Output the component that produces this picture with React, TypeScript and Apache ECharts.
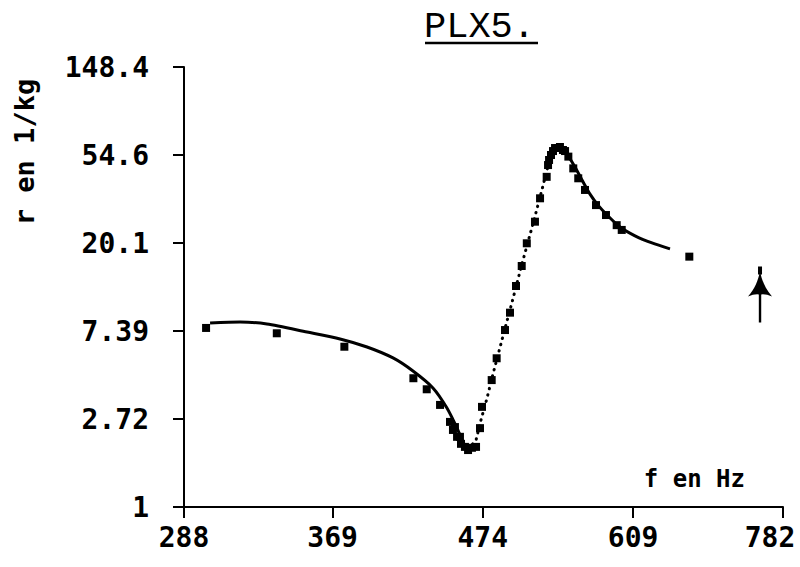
import React, { useEffect, useRef } from 'react';
import * as echarts from 'echarts';

// Axis ticks (log-log plot: f in Hz, r in l/kg)
const xTickValues = [288, 369, 474, 609, 782];
const yTickLabels = ['1', '2.72', '7.39', '20.1', '54.6', '148.4'];

// Fitted curve, left branch (solid)
const fitLeftF = [300.8, 316.2, 330.7, 353.6, 373.6, 390.8, 408.1, 421.9, 436.2, 446.5, 454.1, 458.6, 462.5];
const fitLeftR = [8.09, 8.18, 8.0, 7.3, 6.75, 6.16, 5.44, 4.69, 3.87, 3.08, 2.45, 2.09, 1.93];
// Fitted curve, rising branch (dotted)
const fitMidF = [462.5, 468.7, 472.6, 477.4, 481.3, 486.2, 491.1, 496.0, 501.0, 506.0, 511.1, 516.3, 521.5, 525.8, 529.4, 532.9, 536.5];
const fitMidR = [1.93, 2.14, 2.69, 3.45, 4.33, 5.63, 7.3, 9.38, 12.18, 15.82, 20.31, 26.08, 33.88, 42.0, 50.4, 55.9, 58.4];
// Fitted curve, right branch (solid)
const fitRightF = [536.5, 541.8, 546.4, 552.8, 559.3, 566.8, 574.4, 584.1, 595.9, 611.0, 628.5, 647.7];
const fitRightR = [58.4, 57.8, 54.0, 47.6, 41.1, 35.0, 30.9, 27.3, 24.1, 21.8, 20.1, 18.8];
// Measured points (squares)
const measuredF = [298.8, 336.2, 376.3, 422.2, 431.7, 441.4, 448.8, 451.0, 452.5, 454.1, 456.3, 457.1, 460.1, 462.5, 465.5, 468.7, 471.8, 473.4, 481.1, 485.1, 491.9, 496.0, 501.0, 505.8, 510.1, 517.1, 521.5, 527.3, 528.5, 529.4, 531.1, 532.9, 534.7, 537.3, 539.1, 541.8, 543.7, 546.7, 551.2, 555.8, 562.1, 572.5, 582.1, 592.6, 597.6, 668.9];
const measuredR = [7.65, 7.2, 6.18, 4.32, 3.81, 3.19, 2.63, 2.4, 2.48, 2.22, 2.22, 2.05, 1.98, 1.91, 1.96, 1.98, 2.45, 3.12, 4.23, 5.42, 7.47, 9.1, 12.32, 15.47, 20.02, 25.59, 33.38, 42.6, 48.7, 51.6, 54.6, 57.1, 59.1, 59.1, 59.8, 57.8, 57.1, 53.6, 46.9, 41.9, 36.7, 30.9, 27.6, 24.6, 23.3, 17.2];
// Arrow marker
const arrowF = [752.6];
const arrowR = [11.2];

const ARROW =
  'path://M10,0 L14,0 L14,8 L10,8 Z M12,5 C14,14 17,22 24,30 Q18,27.5 13.2,28 L13.2,56 L10.8,56 L10.8,28 Q6,27.5 0,30 C7,22 10,14 12,5 Z';

const zip = (F: number[], R: number[]) => F.map((f, i) => [Math.log(f), Math.log(R[i])]);

export default function App() {
  const ref = useRef<HTMLDivElement>(null);
  useEffect(() => {
    const chart = echarts.init(ref.current!, null, { renderer: 'svg' });
    const monoBold = { fontFamily: 'DejaVu Sans Mono', fontWeight: 'bold' as const, color: '#000' };
    const xLog = xTickValues.map((v) => Math.log(v));
    chart.setOption({
      animation: false,
      backgroundColor: '#fff',
      title: {
        text: 'PLX5.',
        left: 424,
        top: 8,
        padding: 0,
        textStyle: { fontFamily: 'Liberation Mono', fontWeight: 'normal', fontSize: 37, color: '#000' },
      },
      graphic: [
        { type: 'line', shape: { x1: 425, y1: 43, x2: 538, y2: 43 }, style: { stroke: '#000', lineWidth: 2.5 } },
      ],
      grid: { left: 184, right: 17, top: 67, bottom: 60, outerBoundsMode: 'none', containLabel: false },
      xAxis: {
        type: 'value',
        min: Math.log(288),
        max: Math.log(782),
        name: 'f en Hz',
        nameLocation: 'end',
        nameGap: -38,
        nameTextStyle: { ...monoBold, fontSize: 24, align: 'right', verticalAlign: 'bottom', padding: [0, 0, 16, 0] },
        axisLine: { show: true, onZero: false, lineStyle: { color: '#000', width: 2 } },
        axisTick: { show: true, length: 11, customValues: xLog, lineStyle: { color: '#000', width: 2 } },
        axisLabel: {
          ...monoBold,
          fontSize: 28,
          margin: 16,
          customValues: xLog,
          formatter: (v: number) => {
            const i = xLog.findIndex((t) => Math.abs(t - v) < 1e-6);
            const t = i >= 0 ? String(xTickValues[i]) : '';
            return i === xTickValues.length - 1 ? '{last|' + t + '}' : t;
          },
          rich: { last: { ...monoBold, fontSize: 28, padding: [0, 26, 0, 0] } },
        },
        splitLine: { show: false },
      },
      yAxis: {
        type: 'value',
        min: 0,
        max: 5,
        interval: 1,
        name: 'r en 1/kg',
        nameLocation: 'middle',
        nameRotate: 90,
        nameGap: 160,
        nameTextStyle: { ...monoBold, fontSize: 27, align: 'center', verticalAlign: 'middle', padding: [0, 0, 0, 270] },
        axisLine: { show: true, onZero: false, lineStyle: { color: '#000', width: 2 } },
        axisTick: { show: true, length: 11, lineStyle: { color: '#000', width: 2 } },
        axisLabel: {
          ...monoBold,
          fontSize: 28,
          margin: 35,
          formatter: (v: number) => yTickLabels[Math.round(v)] ?? '',
        },
        splitLine: { show: false },
      },
      series: [
        {
          name: 'fit-left',
          type: 'line',
          data: zip(fitLeftF, fitLeftR),
          showSymbol: false,
          smooth: 0.25,
          lineStyle: { color: '#000', width: 3 },
        },
        {
          name: 'fit-mid',
          type: 'line',
          data: zip(fitMidF, fitMidR),
          showSymbol: false,
          lineStyle: { color: '#000', width: 3, type: [0.5, 6], cap: 'round' },
        },
        {
          name: 'fit-right',
          type: 'line',
          data: zip(fitRightF, fitRightR),
          showSymbol: false,
          smooth: 0.25,
          lineStyle: { color: '#000', width: 3 },
        },
        {
          name: 'measured',
          type: 'scatter',
          data: zip(measuredF, measuredR),
          symbol: 'rect',
          symbolSize: 8,
          itemStyle: { color: '#000', opacity: 1 },
        },
        {
          name: 'arrow',
          type: 'scatter',
          data: zip(arrowF, arrowR),
          symbol: ARROW,
          symbolSize: [24, 56],
          itemStyle: { color: '#000', opacity: 1 },
        },
      ],
    });
    return () => chart.dispose();
  }, []);
  return <div ref={ref} style={{ position: 'fixed', left: 0, top: 0, width: 800, height: 567 }} />;
}
